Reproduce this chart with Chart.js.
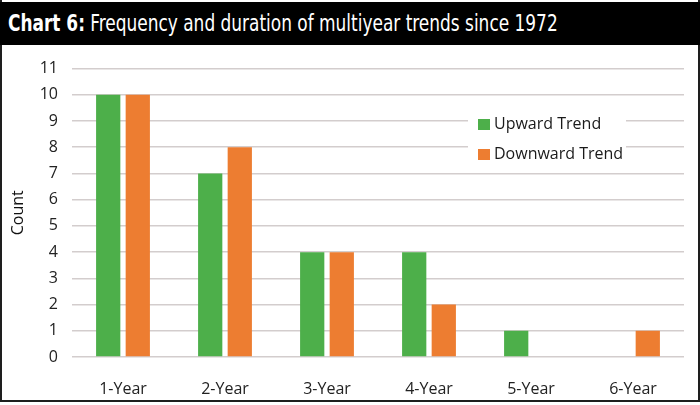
<!DOCTYPE html>
<html>
<head>
<meta charset="utf-8">
<script src="https://cdn.jsdelivr.net/npm/chart.js@4/dist/chart.umd.min.js"></script>
<style>
  html, body { margin: 0; padding: 0; background: #fff; }
  #marco {
    position: absolute; left: 0; top: 0; width: 700px; height: 402px;
    box-sizing: border-box; border: 2px solid #1e1e1e; border-top: none;
  }
  #titulo {
    position: absolute; left: 0; top: 2px; width: 700px; height: 43px;
    background: #000;
  }
  #titulo span {
    position: absolute; left: 8px; top: 0; color: #fff;
    font-family: "DejaVu Sans Condensed", "Liberation Sans Narrow", sans-serif;
    font-size: 23px; line-height: 43px; white-space: nowrap;
    transform: scaleX(0.82); transform-origin: left center;
  }
  #lienzo { position: absolute; left: 0; top: 45px; }
</style>
</head>
<body>
<div id="marco"></div>
<div id="titulo"><span><b>Chart 6:</b> Frequency and duration of multiyear trends since 1972</span></div>
<canvas id="lienzo" width="700" height="356"></canvas>
<script>
// Datos
const categorias = ['1-Year', '2-Year', '3-Year', '4-Year', '5-Year', '6-Year'];
const tendenciaAlcista = [10, 7, 4, 4, 1, 0];
const tendenciaBajista = [10, 8, 4, 2, 0, 1];

const fuente = '"Open Sans", "Noto Sans", sans-serif';

// Leyenda dentro del área del gráfico
const leyendaInterna = {
  id: 'leyendaInterna',
  afterDatasetsDraw(chart) {
    const ctx = chart.ctx;
    ctx.save();
    ctx.fillStyle = '#fff';
    ctx.fillRect(468, 55, 158, 70);
    ctx.font = '16px ' + fuente;
    ctx.textBaseline = 'middle';
    chart.data.datasets.forEach((ds, i) => {
      const y = 79 + i * 30;
      ctx.fillStyle = ds.backgroundColor;
      ctx.fillRect(478, y - 5, 12, 11);
      ctx.fillStyle = '#1a1a1a';
      ctx.fillText(ds.label, 494, y);
    });
    ctx.restore();
  }
};

new Chart(document.getElementById('lienzo').getContext('2d'), {
  type: 'bar',
  data: {
    labels: categorias,
    datasets: [
      { label: 'Upward Trend', data: tendenciaAlcista, backgroundColor: '#4DAF4A',
        categoryPercentage: 0.58, barPercentage: 0.82 },
      { label: 'Downward Trend', data: tendenciaBajista, backgroundColor: '#ED7D31',
        categoryPercentage: 0.58, barPercentage: 0.82 }
    ]
  },
  options: {
    responsive: false,
    animation: false,
    layout: { padding: { left: 0, right: 16, top: 22, bottom: 0 } },
    plugins: {
      legend: { display: false },
      tooltip: { enabled: false }
    },
    scales: {
      x: {
        grid: { display: false },
        border: { display: false },
        ticks: { color: '#222', font: { family: fuente, size: 16 }, padding: 15 },
        afterFit(scale) { scale.height = 44; }
      },
      y: {
        min: 0, max: 11,
        ticks: { stepSize: 1, color: '#222', font: { family: fuente, size: 16 }, padding: 14 },
        grid: { color: '#d3cdcd', lineWidth: 1.6, drawTicks: false },
        border: { display: false },
        title: { display: true, text: 'Count', color: '#111',
                 font: { family: fuente, size: 16 }, padding: { top: 9, bottom: 0 } },
        afterFit(scale) { scale.width = 72; }
      }
    }
  },
  plugins: [leyendaInterna]
});
</script>
</body>
</html>
